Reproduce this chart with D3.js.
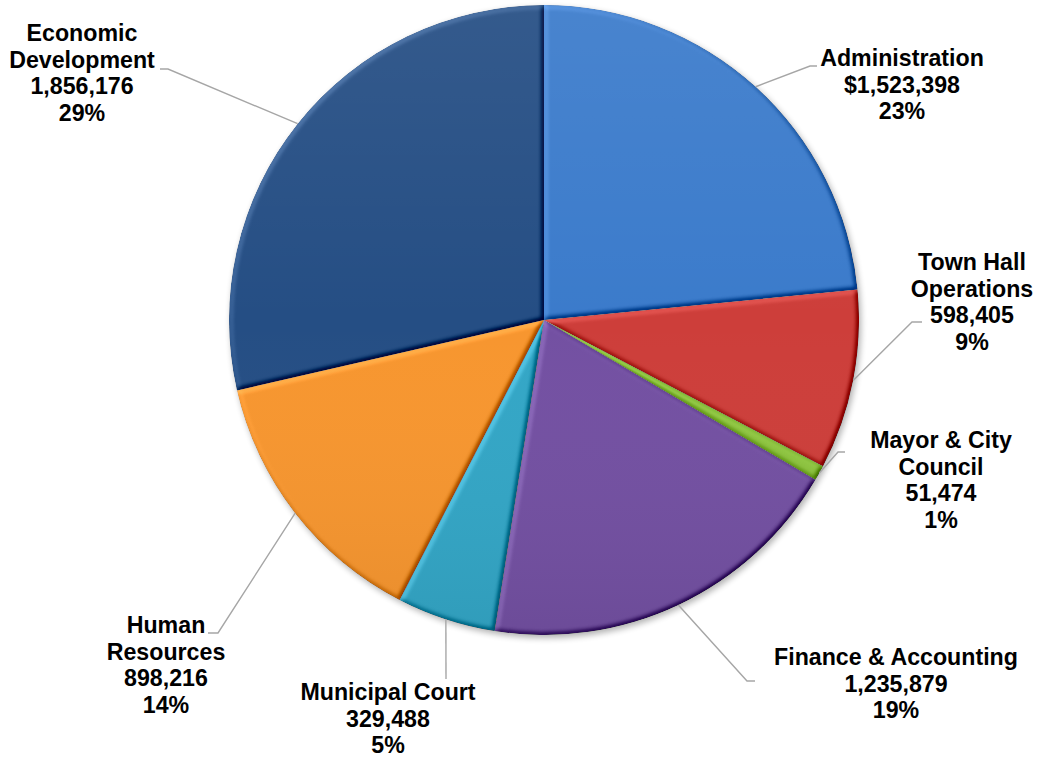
<!DOCTYPE html>
<html>
<head>
<meta charset="utf-8">
<script src="https://cdn.jsdelivr.net/npm/d3@7"></script>
<style>
  html, body { margin: 0; padding: 0; background: #ffffff; }
  svg { display: block; }
  text { font-family: "Liberation Sans", Arial, sans-serif; font-weight: bold; fill: #000; }
</style>
</head>
<body>
<svg id="chart" width="1037" height="757"></svg>
<script>
// Departmental budget, clockwise from 12 o'clock
const categories = [
  "Administration",
  "Town Hall Operations",
  "Mayor & City Council",
  "Finance & Accounting",
  "Municipal Court",
  "Human Resources",
  "Economic Development"
];
const categoryLines = [
  ["Administration"],
  ["Town Hall", "Operations"],
  ["Mayor & City", "Council"],
  ["Finance & Accounting"],
  ["Municipal Court"],
  ["Human", "Resources"],
  ["Economic", "Development"]
];
const values = [1523398, 598405, 51474, 1235879, 329488, 898216, 1856176];
const currencyPrefix = ["$", "", "", "", "", "", ""];
const colors = ["#3b7bcb", "#cd3e3a", "#8dc43f", "#7350a2", "#33a6c6", "#f7962f", "#254e84"];

// Layout
const W = 1037, H = 757;
const cx = 544, cy = 320, R = 315;
const lineH = 26.6;

// Label placement: text centre x, first baseline y, and the leader's bend/end points
const labelLayout = [
  { x: 902, y: 66,  bend: [810, 66],  end: [817, 66] },
  { x: 972, y: 270, bend: [912, 322], end: [922, 322] },
  { x: 941, y: 448, bend: [838, 452], end: [845, 452] },
  { x: 896, y: 665, bend: [747, 681], end: [755, 681] },
  { x: 388, y: 700, bend: [446, 679], end: [446, 679] },
  { x: 166, y: 633, bend: [218, 633], end: [208, 633] },
  { x: 82,  y: 41,  bend: [168, 69],  end: [160, 69] }
];

const svg = d3.select("#chart");
const defs = svg.append("defs");

// Soft drop shadow under the pie
const shadow = defs.append("filter").attr("id", "pieShadow")
  .attr("x", "-10%").attr("y", "-10%").attr("width", "120%").attr("height", "120%");
shadow.append("feGaussianBlur").attr("in", "SourceAlpha").attr("stdDeviation", 3);

// Bevel: light from the upper left shading each slice's edges
const elev = 50;
const bevel = defs.append("filter").attr("id", "bevel")
  .attr("x", "-5%").attr("y", "-5%").attr("width", "110%").attr("height", "110%")
  .attr("color-interpolation-filters", "sRGB");
bevel.append("feGaussianBlur").attr("in", "SourceAlpha").attr("stdDeviation", 2.8).attr("result", "blur");
bevel.append("feDiffuseLighting").attr("in", "blur").attr("surfaceScale", 3)
  .attr("diffuseConstant", 1).attr("lighting-color", "#ffffff").attr("result", "light")
  .append("feDistantLight").attr("azimuth", 225).attr("elevation", elev);
bevel.append("feComposite").attr("in", "SourceGraphic").attr("in2", "light")
  .attr("operator", "arithmetic")
  .attr("k1", 0).attr("k2", 1).attr("k3", 0.5).attr("k4", -0.5 * Math.sin(elev * Math.PI / 180))
  .attr("result", "lit");
bevel.append("feComposite").attr("in", "lit").attr("in2", "SourceAlpha").attr("operator", "in");

// Gentle top-to-bottom sheen across the whole pie
const sheen = defs.append("linearGradient").attr("id", "sheen")
  .attr("x1", 0).attr("y1", 0).attr("x2", 0).attr("y2", 1);
sheen.append("stop").attr("offset", "0%").attr("stop-color", "#ffffff").attr("stop-opacity", 0.07);
sheen.append("stop").attr("offset", "50%").attr("stop-color", "#ffffff").attr("stop-opacity", 0);
sheen.append("stop").attr("offset", "100%").attr("stop-color", "#000000").attr("stop-opacity", 0.06);

const total = d3.sum(values);
const pie = d3.pie().sort(null).value(d => d)(values);
const arc = d3.arc().innerRadius(0).outerRadius(R);

const g = svg.append("g").attr("transform", `translate(${cx},${cy})`);

// shadow disc
g.append("circle")
  .attr("cx", 2).attr("cy", 3).attr("r", R)
  .attr("fill", "#000").attr("opacity", 0.3)
  .attr("filter", "url(#pieShadow)");

// slices
g.selectAll("path.slice")
  .data(pie)
  .join("path")
  .attr("class", "slice")
  .attr("d", arc)
  .attr("fill", (d, i) => colors[i])
  .attr("filter", "url(#bevel)");

g.append("circle").attr("r", R).attr("fill", "url(#sheen)").attr("pointer-events", "none");

// leader lines: from the rim at each slice's mid-angle to its label
const rimPoint = d => {
  const a = (d.startAngle + d.endAngle) / 2;
  return [cx + R * Math.sin(a), cy - R * Math.cos(a)];
};

svg.append("g").selectAll("polyline")
  .data(pie)
  .join("polyline")
  .attr("points", (d, i) => {
    const p0 = rimPoint(d);
    const L = labelLayout[i];
    return [p0, L.bend, L.end].map(p => p.join(",")).join(" ");
  })
  .attr("fill", "none")
  .attr("stroke", "#a6a6a6")
  .attr("stroke-width", 1.4);

// labels
const fmt = d3.format(",");
const pct = d3.format(".0%");
const labels = svg.append("g").selectAll("text")
  .data(pie)
  .join("text")
  .attr("text-anchor", "middle")
  .attr("font-size", 23.2)
  .attr("x", (d, i) => labelLayout[i].x)
  .attr("y", (d, i) => labelLayout[i].y);

labels.each(function (d, i) {
  const lines = categoryLines[i].concat([
    currencyPrefix[i] + fmt(values[i]),
    pct(values[i] / total)
  ]);
  d3.select(this).selectAll("tspan")
    .data(lines)
    .join("tspan")
    .attr("x", labelLayout[i].x)
    .attr("dy", (t, j) => j === 0 ? 0 : lineH)
    .text(t => t);
});
</script>
</body>
</html>
